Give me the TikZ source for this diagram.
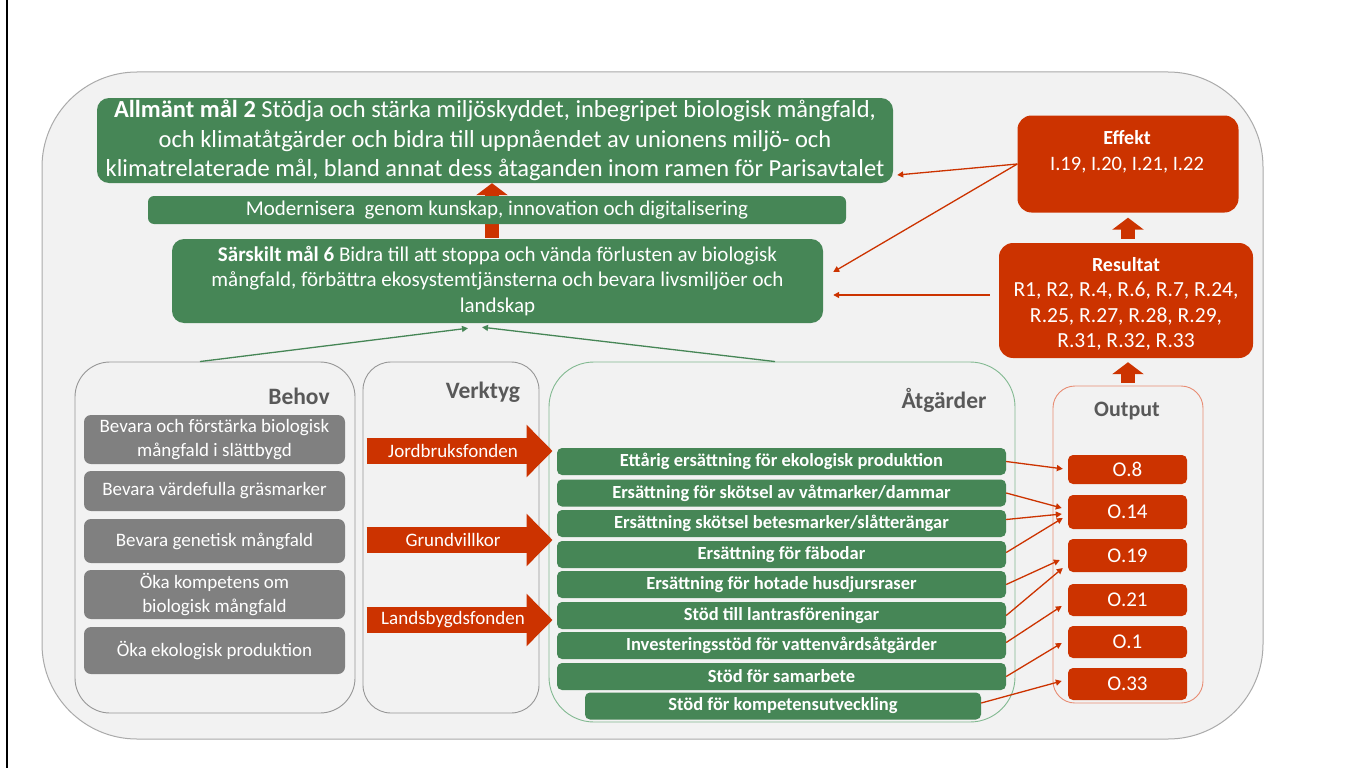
\documentclass[tikz,border=0pt]{standalone}
\usepackage{fontspec}
\setmainfont{Carlito}
\usetikzlibrary{arrows.meta,calc}
\definecolor{gr}{RGB}{70,134,86}
\definecolor{rd}{RGB}{204,51,0}
\definecolor{bg}{RGB}{242,242,242}
\definecolor{obd}{RGB}{170,170,170}
\definecolor{pbd}{RGB}{150,150,150}
\definecolor{gyb}{RGB}{128,128,128}
\definecolor{hdrc}{RGB}{89,89,89}
\definecolor{lgr}{RGB}{130,185,145}
\definecolor{lrd}{RGB}{232,140,115}
\begin{document}
\begin{tikzpicture}[x=1pt,y=-1pt,
  gbox/.style={fill=gr,text=white,rounded corners=7pt,inner sep=0pt,align=center},
  gybox/.style={fill=gyb,text=white,rounded corners=7pt,inner sep=0pt,align=center,minimum width=261pt,font=\fontsize{19}{24}\selectfont},
  arow/.style={gbox,minimum width=449pt,minimum height=27pt,rounded corners=5pt,font=\bfseries\fontsize{18.5}{20}\selectfont},
  obox/.style={fill=rd,text=white,rounded corners=5pt,inner sep=0pt,minimum width=119pt,font=\fontsize{21}{24}\selectfont},
  rbox/.style={fill=rd,text=white,rounded corners=14pt,inner sep=0pt},
  panel/.style={draw=pbd,fill=bg,line width=0.9pt,inner sep=0pt},
  hdr/.style={text=hdrc,font=\bfseries\fontsize{23.5}{26}\selectfont,inner sep=0pt},
  rtext/.style={text=white,align=center,inner sep=0pt},
  rline/.style={rd,line width=1.3pt,-{Triangle[width=6pt,length=6pt]}},
  gline/.style={gr,line width=1.3pt,-{Triangle[width=6pt,length=6pt]}},
  blockup/.style={rd,line width=14pt,-{Triangle[width=31pt,length=12pt]}},
  bigarrow/.style={rd,line width=26pt,-{Triangle[width=51pt,length=26pt]}},
  vtext/.style={text=white,font=\fontsize{19}{22}\selectfont,inner sep=0pt}
]
\useasboundingbox (0,0) rectangle (1371,768);
\fill[white] (0,0) rectangle (1371,768);
\draw[line width=2pt] (7,0) -- (7,768);

% outer panel
\node[panel,draw=obd,line width=1pt,minimum width=1221pt,minimum height=667pt,rounded corners=95pt] (outer) at (652.5,405.5) {};

% goals
\node[gbox,minimum width=796pt,minimum height=85pt,rounded corners=12pt,font=\fontsize{24.5}{29.5}\selectfont] (am2) at (495,140.5)
 {\textbf{Allmänt mål 2} Stödja och stärka miljöskyddet, inbegripet biologisk mångfald,\\och klimatåtgärder och bidra till uppnåendet av unionens miljö- och\\klimatrelaterade mål, bland annat dess åtaganden inom ramen för Parisavtalet};
\node[gbox,minimum width=651pt,minimum height=84pt,rounded corners=12pt,font=\fontsize{21}{25.5}\selectfont] (sm6) at (497.5,281)
 {\textbf{Särskilt mål 6} Bidra till att stoppa och vända förlusten av biologisk\\mångfald, förbättra ekosystemtjänsterna och bevara livsmiljöer och\\landskap};
\draw[blockup,shorten >=2pt] ([xshift=-5.5pt,yshift=1pt]sm6.north) -- ([xshift=-3pt,yshift=2pt]am2.south);
\node[gbox,minimum width=698pt,minimum height=28pt,rounded corners=6pt,font=\fontsize{21}{24}\selectfont] (mod) at (497,210)
 {Modernisera\ \ genom kunskap, innovation och digitalisering};

% effekt / resultat
\node[rbox,minimum width=221pt,minimum height=97pt] (eff) at (1128,164) {};
\node[rtext,font=\fontsize{20.5}{26}\selectfont] (effT) at (1127,152) {{\bfseries\fontsize{20}{26}\selectfont Effekt}\\I.19, I.20, I.21, I.22};
\node[rbox,minimum width=254pt,minimum height=115pt] (res) at (1126,300.5) {};
\node[rtext,font=\fontsize{21.5}{25.3}\selectfont] (resT) at (1126,304) {{\bfseries\fontsize{20}{25.3}\selectfont Resultat}\\R1, R2, R.4, R.6, R.7, R.24,\\R.25, R.27, R.28, R.29,\\R.31, R.32, R.33};

% output panel
\node[panel,draw=lrd,minimum width=150pt,minimum height=317pt,rounded corners=22pt] (outp) at (1128,544.5) {};
\node[text=hdrc,font=\bfseries\fontsize{22}{24}\selectfont,inner sep=0pt] (outT) at (1127,411) {Output};
\draw[blockup,shorten <=4pt,shorten >=5pt] ([xshift=2pt]res.north) -- (eff.south);
\draw[blockup,shorten <=3pt,shorten >=4pt] (outp.north) -- ([xshift=2pt]res.south);

% panels
\node[panel,minimum width=280pt,minimum height=351pt,rounded corners=35pt] (beh) at (215,537.5) {};
\node[panel,minimum width=176pt,minimum height=351pt,rounded corners=28pt] (vt) at (451,537.5) {};
\node[panel,draw=lgr,minimum width=466pt,minimum height=360pt,rounded corners=45pt] (atg) at (782,542) {};
\node[hdr] (behT) at (299,396) {Behov};
\node[hdr] (vtT) at (483,392) {Verktyg};
\node[hdr] (atT) at (944,400) {Åtgärder};

% behov
\node[gybox,minimum height=49pt] (b1) at (214.5,439.5) {Bevara och förstärka biologisk\\mångfald i slättbygd};
\node[gybox,minimum height=40pt] (b2) at (214.5,491) {Bevara värdefulla gräsmarker};
\node[gybox,minimum height=44pt] (b3) at (214.5,541) {Bevara genetisk mångfald};
\node[gybox,minimum height=49pt] (b4) at (214.5,594.5) {Öka kompetens om\\biologisk mångfald};
\node[gybox,minimum height=47pt] (b5) at (214.5,650.5) {Öka ekologisk produktion};

% verktyg arrows
\coordinate (jfy) at (0,451);
\coordinate (gvy) at (0,540);
\coordinate (lby) at (0,620);
\draw[bigarrow] ($(vt.west |- jfy)+(4,0)$) -- ($(atg.west |- jfy)+(4,0)$);
\draw[bigarrow] ($(vt.west |- gvy)+(4,0)$) -- ($(atg.west |- gvy)+(4,0)$);
\draw[bigarrow] ($(vt.west |- lby)+(4,0)$) -- ($(atg.west |- lby)+(4,0)$);
\node[vtext] (jf) at (453,451) {Jordbruksfonden};
\node[vtext] (gv) at (453,540) {Grundvillkor};
\node[vtext] (lb) at (453,620) {Landsbygdsfonden};

% åtgärder rows
\node[arow] (a1) at (781.5,461.5) {Ettårig ersättning för ekologisk produktion};
\node[arow] (a2) at (781.5,493) {Ersättning för skötsel av våtmarker/dammar};
\node[arow] (a3) at (781.5,523.5) {Ersättning skötsel betesmarker/slåtterängar};
\node[arow] (a4) at (781.5,554.5) {Ersättning för fäbodar};
\node[arow] (a5) at (781.5,584.5) {Ersättning för hotade husdjursraser};
\node[arow] (a6) at (781.5,615.5) {Stöd till lantrasföreningar};
\node[arow] (a7) at (781.5,645.5) {Investeringsstöd för vattenvårdsåtgärder};
\node[arow] (a8) at (781.5,676.5) {Stöd för samarbete};
\node[arow,minimum width=396pt] (a9) at (783,706) {Stöd för kompetensutveckling};

% output boxes
\node[obox,minimum height=29pt] (o8) at (1127.5,469.5) {O.8};
\node[obox,minimum height=34pt] (o14) at (1127.5,512) {O.14};
\node[obox,minimum height=33pt] (o19) at (1127.5,555.5) {O.19};
\node[obox,minimum height=32pt] (o21) at (1127.5,600) {O.21};
\node[obox,minimum height=32pt] (o1) at (1127.5,642) {O.1};
\node[obox,minimum height=32pt] (o33) at (1127.5,684) {O.33};

% connectors åtgärder -> output
\draw[rline,shorten >=5pt] (a1.east) -- (o8.west);
\draw[rline] (a2.east) -- ([xshift=-6pt,yshift=4pt]o14.west);
\draw[rline] ([yshift=4pt]a3.east) -- ([xshift=-6pt,yshift=-2pt]o14.west);
\draw[rline] ([yshift=2pt]a4.east) -- ([xshift=-5pt,yshift=-6pt]o14.west);
\draw[rline] (a5.east) -- ([xshift=-8pt,yshift=-4.5pt]o19.west);
\draw[rline] (a6.east) -- ([xshift=-5pt,yshift=-12.5pt]o19.west);
\draw[rline] ([yshift=3pt]a7.east) -- ([xshift=-6pt,yshift=-6pt]o21.west);
\draw[rline] (a8.east) -- ([xshift=-6pt,yshift=-1pt]o1.west);
\draw[rline] ([yshift=3pt]a9.east) -- ([xshift=-6pt,yshift=3pt]o33.west);

% connectors to goals
\draw[rline] (eff.west) -- ([xshift=4pt,yshift=-34.5pt]am2.east);
\draw[rline] (eff.west) -- ([xshift=10pt,yshift=9pt]sm6.east);
\draw[rline] ([xshift=-9pt,yshift=5.5pt]res.west) -- ([xshift=10pt,yshift=-14pt]sm6.east);
\draw[gline] ([xshift=-15pt]beh.north) -- ([xshift=-29.5pt,yshift=-5pt]sm6.south);
\draw[gline] ([xshift=-7pt]atg.north) -- ([xshift=-15.5pt,yshift=-4pt]sm6.south);
\end{tikzpicture}
\end{document}
